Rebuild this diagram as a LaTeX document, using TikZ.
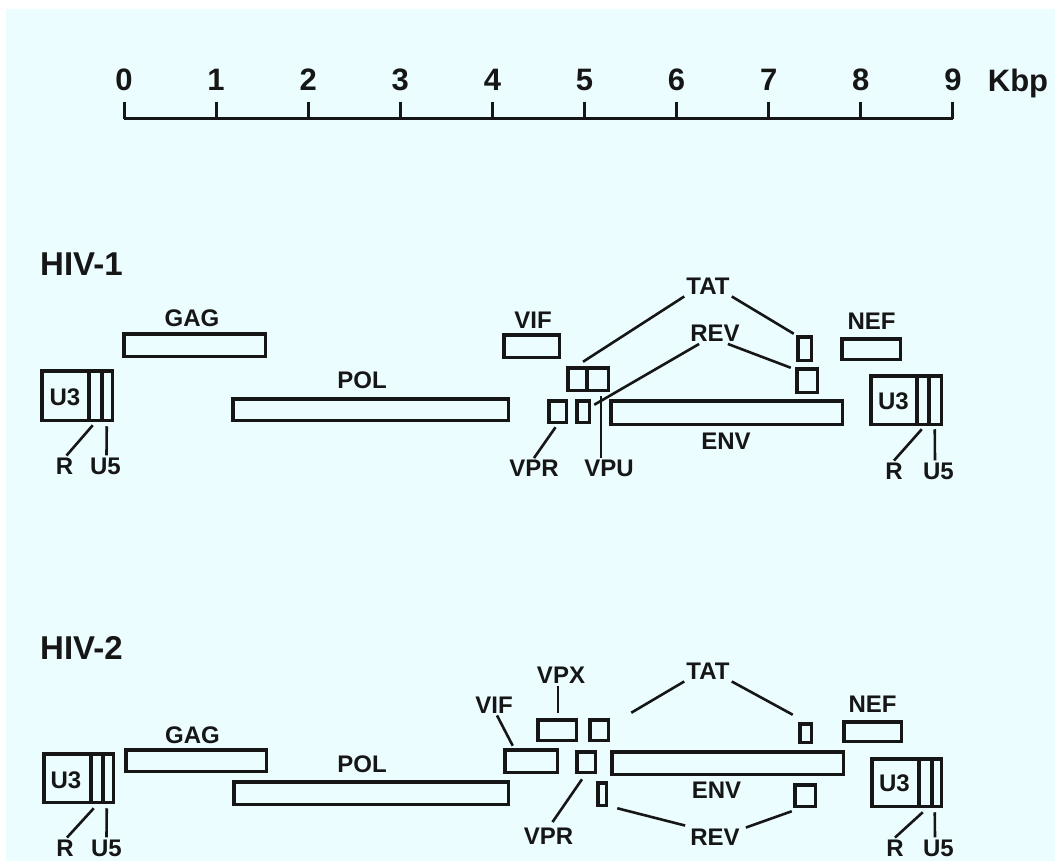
\documentclass[tikz,border=0pt]{standalone}
\usepackage{fontspec}
\setmainfont{Liberation Sans}
\usetikzlibrary{positioning}
\definecolor{bgcyan}{RGB}{236,253,255}
\definecolor{ink}{RGB}{22,22,22}

\begin{document}
\begin{tikzpicture}[x=1pt, y=-1pt,
  gene/.style={draw=ink, line width=3.5pt, inner sep=0pt, outer sep=0pt},
  lab/.style={font=\bfseries\fontsize{24}{26}\selectfont, text=ink, inner sep=2pt},
  virlab/.style={font=\bfseries\fontsize{33}{36}\selectfont, text=ink, inner sep=0pt, anchor=base west},
  scalelab/.style={font=\bfseries\fontsize{31}{34}\selectfont, text=ink, inner sep=0pt},
  lead/.style={draw=ink, line width=2.6pt},
  tickline/.style={draw=ink, line width=3pt}]
\useasboundingbox (0,0) rectangle (1055,861);
\fill[white] (0,0) rectangle (1055,861);
\fill[bgcyan] (6,9) rectangle (1055,861);

\foreach \i in {0,...,9} {
  \coordinate (tick\i) at (124+92.1*\i,119);
  \node[scalelab] (num\i) at (124+92.1*\i,80) {\i};
  \draw[tickline] (tick\i) -- ++(0,-17);
}
\draw[tickline] (tick0) -- (tick9);
\node[scalelab, anchor=base] (kbp) at (1018,92) {Kbp};

\node[virlab] (hiv1) at (40,275) {HIV-1};
\node[virlab] (hiv2) at (40,659) {HIV-2};

\node[gene, minimum width=70.5, minimum height=49.5] (ltr1L) at (77,395.5) {};
\node[gene, minimum width=141.5, minimum height=22.5] (gag1) at (194.5,345) {};
\node[gene, minimum width=275.5, minimum height=21.5] (pol1) at (370.5,409.5) {};
\node[gene, minimum width=55.5, minimum height=22.5] (vif1) at (531.5,346) {};
\node[gene, minimum width=19.3, minimum height=22.5] (tat1a) at (577.4,379) {};
\node[gene, minimum width=21.3, minimum height=22.5] (rev1a) at (597.6,379) {};
\node[gene, minimum width=17.5, minimum height=21.5] (vpr1) at (557.5,411.5) {};
\node[gene, minimum width=12.5, minimum height=21.5] (vpu1) at (583,411.5) {};
\node[gene, minimum width=231.5, minimum height=23.5] (env1) at (726.5,412.5) {};
\node[gene, minimum width=13.5, minimum height=23.5] (tat1b) at (804.5,348.5) {};
\node[gene, minimum width=20.5, minimum height=23.5] (rev1b) at (807,380.5) {};
\node[gene, minimum width=58.5, minimum height=20.5] (nef1) at (871,349) {};
\node[gene, minimum width=70.5, minimum height=48.5] (ltr1R) at (906,400) {};

\node[lab] (u31L) at (65,397) {U3};
\node[lab] (r1L) at (64.5,466) {R};
\node[lab] (u51L) at (105.5,466) {U5};
\node[lab] (gag1lab) at (192,318) {GAG};
\node[lab] (pol1lab) at (362,380) {POL};
\node[lab] (vif1lab) at (533,320) {VIF};
\node[lab] (tat1lab) at (708,286) {TAT};
\node[lab] (rev1lab) at (715,333.5) {REV};
\node[lab] (nef1lab) at (871.5,321.5) {NEF};
\node[lab] (env1lab) at (726,441.5) {ENV};
\node[lab] (vpr1lab) at (534,468.5) {VPR};
\node[lab] (vpu1lab) at (609,468.5) {VPU};
\node[lab] (u31R) at (893.5,401) {U3};
\node[lab] (r1R) at (894,471) {R};
\node[lab] (u51R) at (938.5,471) {U5};

\draw[lead] (tat1lab.south west) -- ([shift={(-4,-6)}]tat1a.north east);
\draw[lead] (tat1lab.south east) -- ([shift={(-4,-3)}]tat1b.north west);
\draw[lead] ([xshift=11pt]rev1lab.south west) -- ([shift={(5,4)}]vpu1.north east);
\draw[lead] ([xshift=-14pt]rev1lab.south east) -- ([shift={(-6,-1)}]rev1b.north west);
\draw[lead] (vpr1lab.north) -- ([shift={(-2,5)}]vpr1.south);
\draw[lead] ([xshift=-8pt]vpu1lab.north) -- ([shift={(3.4,6)}]rev1a.south);
\draw[lead] ([xshift=2pt]r1L.north) -- ([shift={(51,5)}]ltr1L.south west);
\draw[lead] ([xshift=1pt]u51L.north) -- ([shift={(65,6)}]ltr1L.south west);
\draw[lead] (r1R.north) -- ([shift={(51,5)}]ltr1R.south west);
\draw[lead] ([xshift=-3.5pt]u51R.north) -- ([shift={(64,5)}]ltr1R.south west);

\node[gene, minimum width=69.5, minimum height=48.5] (ltr2L) at (78.5,778) {};
\node[gene, minimum width=140.5, minimum height=21.5] (gag2) at (196,760.5) {};
\node[gene, minimum width=274.5, minimum height=22.5] (pol2) at (371,793) {};
\node[gene, minimum width=52.5, minimum height=22.5] (vif2) at (531,761) {};
\node[gene, minimum width=38.5, minimum height=20.5] (vpx2) at (557,730) {};
\node[gene, minimum width=18.5, minimum height=20.5] (tat2a) at (599,730) {};
\node[gene, minimum width=18.5, minimum height=20.5] (vpr2) at (586,762) {};
\node[gene, minimum width=8.5, minimum height=22.5] (rev2a) at (602,794) {};
\node[gene, minimum width=231.5, minimum height=22.5] (env2) at (727.5,763) {};
\node[gene, minimum width=11.5, minimum height=18.5] (tat2b) at (805.5,733) {};
\node[gene, minimum width=20.5, minimum height=21.5] (rev2b) at (805,795.5) {};
\node[gene, minimum width=57.5, minimum height=19.5] (nef2) at (872.5,731.5) {};
\node[gene, minimum width=69.5, minimum height=47.5] (ltr2R) at (906.5,782.5) {};

\node[lab] (u32L) at (66,780) {U3};
\node[lab] (r2L) at (65,848) {R};
\node[lab] (u52L) at (106.5,848) {U5};
\node[lab] (gag2lab) at (192.5,735) {GAG};
\node[lab] (pol2lab) at (362,764.5) {POL};
\node[lab] (vif2lab) at (494,705) {VIF};
\node[lab] (vpx2lab) at (561,675.5) {VPX};
\node[lab] (tat2lab) at (708,671) {TAT};
\node[lab] (env2lab) at (716.5,790.5) {ENV};
\node[lab] (vpr2lab) at (548.5,836.5) {VPR};
\node[lab] (rev2lab) at (715,837) {REV};
\node[lab] (nef2lab) at (872.5,704) {NEF};
\node[lab] (u32R) at (894.5,783.5) {U3};
\node[lab] (r2R) at (895,848) {R};
\node[lab] (u52R) at (938.5,848) {U5};

\draw[lead] ([xshift=3pt]vif2lab.south) -- ([shift={(8,-4)}]vif2.north west);
\draw[lead] ([xshift=-3pt]vpx2lab.south) -- ([shift={(1,-7)}]vpx2.north);
\draw[lead] (tat2lab.south west) -- ([shift={(23,-7)}]tat2a.north east);
\draw[lead] (tat2lab.south east) -- ([shift={(-7,-9)}]tat2b.north west);
\draw[lead] ([shift={(4,-4)}]vpr2lab.north) -- ([shift={(-4,7)}]vpr2.south);
\draw[lead] ([shift={(-3,-1)}]rev2lab.north west) -- ([shift={(11,3)}]rev2a.south east);
\draw[lead] ([shift={(4,1)}]rev2lab.north east) -- ([shift={(-3,5)}]rev2b.south west);
\draw[lead] ([xshift=2pt]r2L.north) -- ([shift={(50,6)}]ltr2L.south west);
\draw[lead] (u52L.north) -- ([shift={(63,6)}]ltr2L.south west);
\draw[lead] (r2R.north) -- ([shift={(51,6)}]ltr2R.south west);
\draw[lead] ([xshift=-3.5pt]u52R.north) -- ([shift={(63,6)}]ltr2R.south west);

\foreach \n/\a/\b in {ltr1L/47/60, ltr1R/46/58, ltr2L/47/59, ltr2R/47/60}
  \draw[gene] ([xshift=\a pt]\n.north west) -- ([xshift=\a pt]\n.south west)
    ([xshift=\b pt]\n.north west) -- ([xshift=\b pt]\n.south west);
\end{tikzpicture}
\end{document}
